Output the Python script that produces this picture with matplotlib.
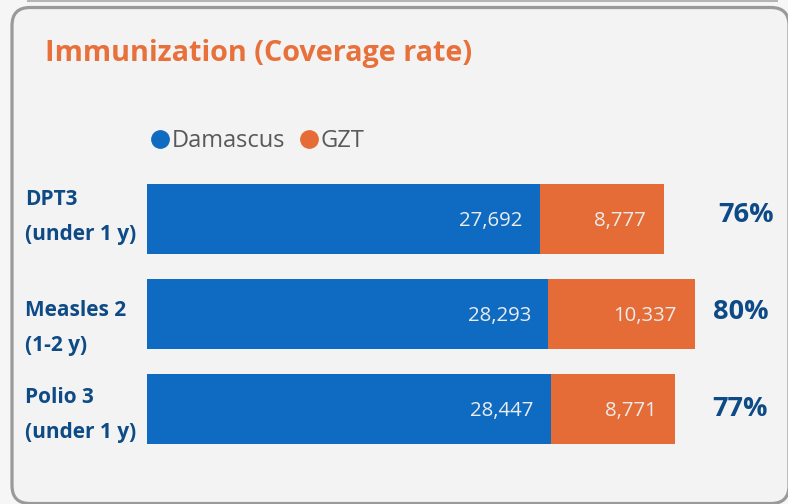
import matplotlib
matplotlib.use("Agg")
import matplotlib.pyplot as plt
from matplotlib.patches import FancyBboxPatch
from matplotlib.lines import Line2D
import matplotlib.transforms as mtransforms

# ---- data ----
categories = ["DPT3\n(under 1 y)", "Measles 2\n(1-2 y)", "Polio 3\n(under 1 y)"]
damascus = [27692, 28293, 28447]
gzt = [8777, 10337, 8771]
coverage = ["76%", "80%", "77%"]
series_names = ["Damascus", "GZT"]
title = "Immunization (Coverage rate)"

# ---- style ----
BLUE = "#0F6BC1"
ORANGE = "#E56C37"
TITLE_C = "#E8703A"
NAVY = "#0E4A85"
FONT = ["Open Sans", "DejaVu Sans"]
plt.rcParams["font.family"] = FONT

W, H = 788, 504
fig = plt.figure(figsize=(W / 100, H / 100), dpi=100)
fig.patch.set_facecolor("#f6f6f6")

px = mtransforms.Affine2D().scale(1 / 100) + fig.dpi_scale_trans

# top strip (neighbouring panel border)
fig.add_artist(Line2D([28, 777], [H - 1, H - 1], transform=px, color="#b5b5b5", lw=1.5))
# panel
panel = FancyBboxPatch((12, 0.5), 777, H - 7.5 - 0.5,
                       boxstyle="round,pad=0,rounding_size=18",
                       transform=px, facecolor="#f3f3f3", edgecolor="#9a9a9a",
                       lw=2.3, zorder=0)
fig.add_artist(panel)

# axes placement
ax_left, ax_right = 147, 780
ax_top, ax_bot = 170, 460
ax = fig.add_axes([ax_left / W, 1 - ax_bot / H, (ax_right - ax_left) / W, (ax_bot - ax_top) / H])
ax.set_facecolor("none")
px_per_unit = 0.01419
xmax = (ax_right - ax_left) / px_per_unit
ax.set_xlim(0, xmax)
step = 95
first_center = 219
ax.set_ylim((ax_bot - first_center) / step, (ax_top - first_center) / step)

y = list(range(len(categories)))
bh = 70 / step
ax.barh(y, damascus, height=bh, color=BLUE, zorder=2)
ax.barh(y, gzt, left=damascus, height=bh, color=ORANGE, zorder=2)

for i in y:
    ax.annotate(f"{damascus[i]:,}", xy=(damascus[i], i), xytext=(-12.5, -1.5),
                textcoords="offset points", ha="right", va="center",
                color="#ececec", fontsize=14.7)
    ax.annotate(f"{gzt[i]:,}", xy=(damascus[i] + gzt[i], i), xytext=(-13.5, -1.5),
                textcoords="offset points", ha="right", va="center",
                color="#ececec", fontsize=14.7)

pct_cx = [746, 741, 740]
pct_dy = [-4, -2, 0]
for i in y:
    ax.annotate(coverage[i], xy=((pct_cx[i] - ax_left) / px_per_unit, i),
                xytext=(0, -pct_dy[i] * 0.72),
                textcoords="offset points", ha="center", va="center",
                color=NAVY, fontsize=19.5, fontweight="bold")

lab_dy = [-2, 14, 6]
for i in y:
    ax.annotate(categories[i], xy=(0, i), xytext=((25 - ax_left) * 0.72, -lab_dy[i] * 0.72),
                textcoords="offset points", ha="left", va="center",
                color=NAVY, fontsize=15, fontweight="bold", linespacing=1.85)

ax.set_xticks([])
ax.set_yticks([])
for s in ax.spines.values():
    s.set_visible(False)

fig.text(45 / W, 1 - 53 / H, title, color=TITLE_C, fontsize=20.7, fontweight="bold",
         ha="left", va="center")

handles = [Line2D([], [], marker="o", ls="none", markersize=12.5, color=c) for c in (BLUE, ORANGE)]
leg = fig.legend(handles, series_names, loc="center left",
                 bbox_to_anchor=(152 / W, 1 - 141 / H), frameon=False, ncol=2,
                 handlelength=0.7, handletextpad=0.15, columnspacing=0.65,
                 borderaxespad=0, borderpad=0, fontsize=17)
for t in leg.get_texts():
    t.set_color("#595959")

fig.savefig("out.png", dpi=100, facecolor=fig.get_facecolor())
